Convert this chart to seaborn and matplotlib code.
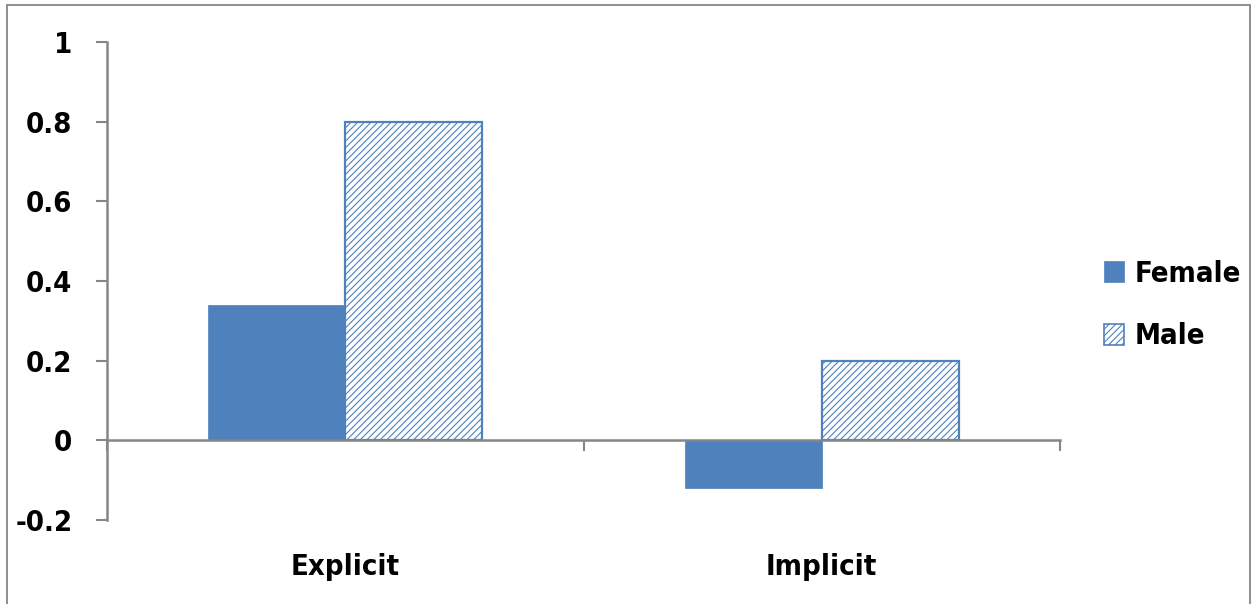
import matplotlib
matplotlib.use("Agg")
import matplotlib.pyplot as plt
from matplotlib.patches import Rectangle, Patch
import seaborn as sns
import pandas as pd

# Data
measures = ["Explicit", "Implicit"]
groups = ["Female", "Male"]
female_scores = [0.34, -0.12]
male_scores = [0.80, 0.20]
y_ticks = [-0.2, 0, 0.2, 0.4, 0.6, 0.8, 1]
y_tick_labels = ["-0.2", "0", "0.2", "0.4", "0.6", "0.8", "1"]

df = pd.DataFrame({
    "measure": measures * 2,
    "group": [groups[0]] * len(measures) + [groups[1]] * len(measures),
    "score": female_scores + male_scores,
})

sns.set_theme(style="white")
plt.rcParams["font.family"] = ["DejaVu Sans"]
plt.rcParams["font.stretch"] = "condensed"
plt.rcParams["hatch.linewidth"] = 0.8
plt.rcParams["hatch.color"] = "#4F81BD"

blue = "#4F81BD"
grey = "#868686"
fs = 21
txt = dict(fontsize=fs, color="black", fontstretch="condensed", fontweight="bold")

fig = plt.figure(figsize=(12.53, 6.04), dpi=100)
ax = fig.add_axes([107 / 1253, 1 - 520 / 604, (1060 - 107) / 1253, (520 - 42) / 604])

sns.barplot(data=df, x="measure", y="score", hue="group", hue_order=groups,
            palette=[blue, "white"], width=0.575, errorbar=None, ax=ax,
            saturation=1, linewidth=0, legend=False)

female_bars, male_bars = ax.containers[0], ax.containers[1]
for p in female_bars:
    p.set_facecolor(blue)
    p.set_edgecolor(blue)
    p.set_linewidth(0.5)
for p in male_bars:
    p.set_facecolor("white")
    p.set_edgecolor(blue)
    p.set_hatch("/////")
    p.set_linewidth(1.6)

ax.set_xlim(-0.5, 1.5)
ax.set_ylim(-0.2, 1.0)
ax.set_xlabel("")
ax.set_ylabel("")

# y axis
ax.set_yticks(y_ticks)
ax.set_yticklabels(y_tick_labels, **txt)
ax.tick_params(axis="y", direction="out", length=8, width=1.5, color=grey,
               pad=17, left=True)

# x axis: line at zero with boundary ticks; category labels as minor ticks
ax.spines["bottom"].set_position(("data", 0))
ax.set_xticks([-0.5, 0.5, 1.5])
ax.set_xticklabels([])
ax.tick_params(axis="x", which="major", direction="out", length=8, width=1.5,
               color=grey, bottom=True)
ax.set_xticks([0, 1], minor=True)
ax.set_xticklabels(measures, minor=True, **txt)
ax.tick_params(axis="x", which="minor", length=0, pad=81)

for side in ["top", "right"]:
    ax.spines[side].set_visible(False)
for side in ["left", "bottom"]:
    ax.spines[side].set_color(grey)
    ax.spines[side].set_linewidth(1.8)
ax.spines["bottom"].set_zorder(5)

# legend
handles = [
    Patch(facecolor=blue, edgecolor=blue, linewidth=0.5, label=groups[0]),
    Patch(facecolor="white", edgecolor=blue, hatch="/////", linewidth=1.2, label=groups[1]),
]
leg = ax.legend(handles=handles, loc="center left",
                bbox_to_anchor=(1104 / 1253, 1 - 305 / 604),
                bbox_transform=fig.transFigure, borderaxespad=0, borderpad=0,
                frameon=False, prop=dict(size=fs, stretch="condensed", weight="bold"),
                handlelength=0.7, handleheight=0.7,
                handletextpad=0.35, labelspacing=1.2)
for t in leg.get_texts():
    t.set_color("black")

# outer frame
fig.patches.append(Rectangle((7 / 1253, -0.05), (1250 - 7) / 1253, 1 - 5 / 604 + 0.05,
                             transform=fig.transFigure, fill=False,
                             edgecolor=grey, linewidth=1.3))

fig.savefig("out.png", dpi=100)
